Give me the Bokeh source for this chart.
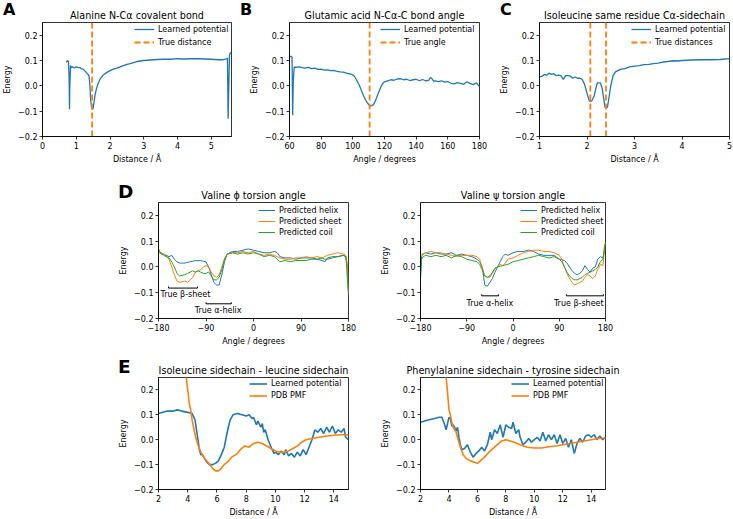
from bokeh.plotting import figure
from bokeh.layouts import row, column
from bokeh.models import Range1d, FixedTicker, Label, Legend, LegendItem, Div
from bokeh.embed import file_html
from bokeh.resources import INLINE

BLUE = "#1f77b4"
ORANGE = "#ff7f0e"
GREEN = "#2ca02c"
FONT = "DejaVu Sans"
DASH = "6 3"
Y_MIN, Y_MAX = -0.2, 0.25

# ---------------- data ----------------
# A: Alanine N-Ca covalent bond
a_x = [0.71, 0.74, 0.77, 0.79, 0.80, 0.81, 0.83, 0.86, 0.9, 0.95, 1.0, 1.05, 1.1, 1.15, 1.2, 1.25,
       1.3, 1.35, 1.38, 1.40, 1.43, 1.46, 1.48, 1.50, 1.53, 1.56, 1.6, 1.65, 1.7, 1.75, 1.8, 1.9,
       2.0, 2.1, 2.2, 2.3, 2.4, 2.5, 2.6, 2.7, 2.8, 2.9, 3.0, 3.2, 3.4, 3.6, 3.8, 4.0, 4.2, 4.4,
       4.6, 4.8, 5.0, 5.2, 5.35, 5.45, 5.48, 5.50, 5.52, 5.54, 5.56, 5.58, 5.6]
a_y = [0.092, 0.100, 0.095, 0.020, -0.092, 0.000, 0.080, 0.072, 0.075, 0.070, 0.075, 0.073, 0.072,
       0.068, 0.066, 0.060, 0.052, 0.045, 0.038, 0.010, -0.060, -0.090, -0.093, -0.088, -0.060,
       -0.035, -0.010, 0.010, 0.025, 0.035, 0.043, 0.052, 0.060, 0.066, 0.070, 0.075, 0.080, 0.085,
       0.088, 0.092, 0.096, 0.098, 0.100, 0.102, 0.104, 0.105, 0.105, 0.107, 0.106, 0.107, 0.107,
       0.106, 0.105, 0.103, 0.103, 0.106, 0.110, -0.130, 0.000, 0.120, 0.130, 0.130, 0.128]
a_true = [1.47]

# B: Glutamic acid N-Ca-C bond angle
b_x = [60, 61, 61.6, 62.0, 62.4, 63, 64, 66, 68, 70, 72, 74, 76, 78, 80, 82, 84, 86, 88, 90, 92, 94,
       96, 98, 100, 101, 102, 103, 104, 105, 106, 107, 108, 109, 110, 111, 112, 113, 114, 115, 116,
       117, 118, 119, 120, 122, 124, 126, 128, 130, 132, 134, 136, 138, 140, 142, 144, 146, 148, 149,
       150, 151, 152, 154, 156, 158, 160, 162, 164, 166, 168, 170, 172, 174, 176, 178, 180]
b_y = [0.115, 0.116, 0.114, -0.116, 0.020, 0.075, 0.073, 0.075, 0.072, 0.070, 0.073, 0.068, 0.070,
       0.065, 0.066, 0.062, 0.063, 0.060, 0.061, 0.057, 0.055, 0.054, 0.050, 0.047, 0.043, 0.038,
       0.027, 0.015, 0.003, -0.012, -0.028, -0.042, -0.055, -0.065, -0.074, -0.079, -0.078, -0.074,
       -0.063, -0.047, -0.030, -0.015, 0.000, 0.010, 0.016, 0.020, 0.024, 0.022, 0.027, 0.028, 0.024,
       0.026, 0.021, 0.024, 0.026, 0.020, 0.025, 0.020, 0.022, 0.033, 0.028, 0.018, 0.020, 0.017,
       0.020, 0.015, 0.017, 0.010, 0.008, 0.013, 0.010, 0.006, 0.016, 0.010, 0.005, 0.012, -0.003]
b_true = [110.6]

# C: Isoleucine same residue Ca-sidechain
c_x = [1.0, 1.05, 1.1, 1.15, 1.2, 1.25, 1.3, 1.35, 1.4, 1.45, 1.5, 1.55, 1.6, 1.65, 1.7, 1.75, 1.8,
       1.85, 1.9, 1.95, 2.0, 2.05, 2.1, 2.15, 2.2, 2.22, 2.28, 2.32, 2.36, 2.38, 2.43, 2.46, 2.5, 2.55,
       2.6, 2.7, 2.8, 2.9, 3.0, 3.1, 3.2, 3.3, 3.4, 3.5, 3.6, 3.7, 3.8, 3.9, 4.0, 4.2, 4.4, 4.6, 4.8, 5.0]
c_y = [0.035, 0.037, 0.045, 0.042, 0.050, 0.045, 0.048, 0.040, 0.042, 0.040, 0.025, 0.040, 0.040,
       0.038, 0.030, 0.035, 0.030, 0.030, 0.025, 0.005, -0.030, -0.060, -0.060, -0.040, 0.000, 0.012,
       0.012, -0.010, -0.060, -0.085, -0.085, -0.050, 0.000, 0.040, 0.055, 0.065, 0.068, 0.075, 0.078,
       0.080, 0.084, 0.085, 0.088, 0.090, 0.094, 0.096, 0.099, 0.098, 0.100, 0.102, 0.103, 0.103, 0.104, 0.107]
c_true = [2.07, 2.40]

# D: Valine torsion angles
ang = [-180, -175, -170, -160, -155, -150, -145, -140, -130, -125, -120, -115, -110, -105, -100, -95,
       -90, -85, -80, -75, -70, -65, -60, -55, -50, -40, -30, -20, -10, 0, 10, 20, 30, 40, 45, 50, 60,
       70, 80, 90, 100, 110, 120, 130, 135, 140, 150, 160, 170, 175, 178, 180]
phi_helix = [0.060, 0.055, 0.050, 0.040, 0.045, 0.030, 0.020, 0.015, 0.015, 0.018, 0.020, 0.022, 0.025,
             0.024, 0.025, 0.022, 0.020, 0.000, -0.030, -0.060, -0.070, -0.070, -0.030, 0.020, 0.050,
             0.060, 0.060, 0.065, 0.070, 0.065, 0.060, 0.055, 0.055, 0.060, 0.055, 0.040, 0.035, 0.035,
             0.030, 0.035, 0.035, 0.035, 0.030, 0.025, 0.020, 0.035, 0.040, 0.040, 0.045, 0.040, 0.000, -0.100]
phi_sheet = [0.055, 0.052, 0.050, 0.030, 0.000, -0.030, -0.055, -0.060, -0.055, -0.060, -0.050, -0.040,
             -0.020, -0.015, -0.010, 0.000, 0.005, 0.000, -0.020, -0.035, -0.040, -0.030, 0.000, 0.030,
             0.050, 0.055, 0.055, 0.060, 0.055, 0.060, 0.050, 0.045, 0.050, 0.045, 0.040, 0.035, 0.030,
             0.030, 0.035, 0.035, 0.040, 0.035, 0.040, 0.035, 0.040, 0.045, 0.050, 0.055, 0.050, 0.045, 0.000, -0.100]
phi_coil = [0.070, 0.050, 0.045, 0.035, 0.020, 0.000, -0.025, -0.035, -0.030, -0.025, -0.020, -0.015,
            -0.020, -0.015, -0.020, -0.025, -0.025, -0.020, -0.035, -0.050, -0.050, -0.040, -0.010, 0.030,
            0.050, 0.055, 0.050, 0.055, 0.050, 0.055, 0.050, 0.040, 0.045, 0.040, 0.030, 0.020, 0.025,
            0.020, 0.025, 0.025, 0.025, 0.030, 0.030, 0.035, 0.030, 0.030, 0.035, 0.040, 0.045, 0.040, -0.050, -0.110]

ang2 = [-180, -178, -175, -170, -160, -150, -140, -130, -120, -110, -100, -90, -80, -70, -65, -60, -57,
        -55, -50, -45, -40, -35, -30, -25, -20, -15, -10, 0, 10, 20, 30, 40, 50, 60, 70, 80, 90, 95, 100,
        105, 110, 115, 120, 125, 130, 135, 140, 145, 150, 155, 160, 165, 170, 175, 178, 180]
psi_helix = [-0.050, 0.040, 0.050, 0.055, 0.050, 0.055, 0.050, 0.050, 0.055, 0.045, 0.050, 0.045, 0.040,
             0.030, 0.020, 0.000, -0.040, -0.070, -0.075, -0.060, -0.045, -0.020, 0.000, 0.020, 0.040,
             0.050, 0.045, 0.055, 0.060, 0.060, 0.065, 0.060, 0.050, 0.045, 0.045, 0.045, 0.030, 0.028,
             0.025, 0.015, 0.000, -0.015, -0.025, -0.030, -0.025, -0.015, 0.005, -0.010, -0.020, -0.005,
             0.000, 0.030, 0.040, 0.035, 0.060, 0.070]
psi_sheet = [0.050, 0.050, 0.050, 0.055, 0.060, 0.055, 0.055, 0.050, 0.045, 0.040, 0.045, 0.045, 0.045,
             0.040, 0.030, 0.000, -0.020, -0.035, -0.040, -0.040, -0.025, -0.005, 0.000, 0.010, 0.005,
             0.015, 0.030, 0.035, 0.045, 0.055, 0.060, 0.065, 0.065, 0.060, 0.060, 0.055, 0.045, 0.030,
             0.000, -0.025, -0.045, -0.060, -0.070, -0.065, -0.060, -0.055, -0.040, -0.030, -0.035, -0.045,
             -0.035, -0.010, 0.010, 0.005, 0.070, 0.095]
psi_coil = [-0.030, 0.030, 0.040, 0.045, 0.040, 0.045, 0.040, 0.045, 0.035, 0.045, 0.040, 0.030, 0.025,
            0.020, 0.010, -0.010, -0.025, -0.035, -0.040, -0.035, -0.020, -0.005, 0.000, 0.003, 0.005,
            0.008, 0.010, 0.020, 0.025, 0.030, 0.035, 0.040, 0.045, 0.040, 0.035, 0.040, 0.030, 0.020,
            0.000, -0.020, -0.035, -0.045, -0.050, -0.050, -0.045, -0.040, -0.030, -0.025, -0.020, -0.015,
            -0.010, 0.000, 0.020, 0.030, 0.080, 0.095]

# brackets: (start, end, y, label, label_x, label_y)
phi_brackets = [(-161, -106, -0.082, "True β-sheet", -129, -0.108),
                (-90, -42, -0.143, "True α-helix", -67, -0.170)]
psi_brackets = [(-61, -28, -0.112, "True α-helix", -45, -0.143),
                (104, 176, -0.112, "True β-sheet", 128, -0.143)]

# E: sidechain-sidechain distances
e1_x = [2.0, 2.3, 2.6, 3.0, 3.3, 3.6, 4.0, 4.3, 4.5, 4.6, 4.7, 4.8, 4.9, 5.0, 5.1, 5.3, 5.5, 5.7, 5.9,
        6.1, 6.3, 6.5, 6.7, 6.9, 7.1, 7.4, 7.7, 8.0, 8.2, 8.4, 8.5, 8.7, 8.8, 9.0, 9.1, 9.2, 9.3, 9.5,
        9.7, 9.9, 10.0, 10.2, 10.4, 10.6, 10.7, 10.9, 11.1, 11.3, 11.5, 11.7, 11.9, 12.1, 12.3, 12.5,
        12.7, 12.9, 13.1, 13.3, 13.5, 13.7, 13.9, 14.1, 14.3, 14.5, 14.7, 14.8, 15.0]
e1_learn = [0.105, 0.110, 0.115, 0.115, 0.120, 0.115, 0.110, 0.105, 0.080, 0.040, 0.000, -0.040, -0.060,
            -0.060, -0.070, -0.090, -0.100, -0.100, -0.095, -0.085, -0.060, -0.030, 0.030, 0.080, 0.100,
            0.105, 0.100, 0.095, 0.100, 0.085, 0.090, 0.060, 0.075, 0.050, 0.065, 0.030, 0.040, 0.000,
            -0.030, -0.055, -0.050, -0.060, -0.045, -0.060, -0.040, -0.065, -0.055, -0.070, -0.050, -0.065,
            -0.040, -0.060, -0.030, 0.000, 0.040, 0.030, 0.045, 0.025, 0.050, 0.030, 0.055, 0.025, 0.040,
            0.030, 0.045, 0.010, 0.000]
e1_pmf_x = [3.8, 3.9, 4.0, 4.1, 4.2, 4.3, 4.5, 4.7, 4.9, 5.1, 5.3, 5.5, 5.7, 5.9, 6.1, 6.3, 6.5, 6.8,
            7.0, 7.3, 7.6, 7.9, 8.2, 8.5, 8.8, 9.1, 9.4, 9.7, 10.0, 10.3, 10.6, 10.9, 11.2, 11.5, 11.8,
            12.1, 12.5, 13.0, 13.5, 14.0, 14.5, 15.0]
e1_pmf = [0.320, 0.250, 0.200, 0.150, 0.120, 0.080, 0.020, -0.020, -0.050, -0.070, -0.085, -0.100,
          -0.115, -0.125, -0.125, -0.115, -0.100, -0.085, -0.070, -0.060, -0.040, -0.025, -0.030, -0.015,
          -0.010, -0.015, -0.025, -0.035, -0.045, -0.050, -0.050, -0.045, -0.035, -0.025, -0.010, 0.000,
          0.005, 0.010, 0.015, 0.018, 0.020, 0.020]

e2_x = [2.0, 2.3, 2.6, 3.0, 3.3, 3.5, 3.7, 3.8, 4.0, 4.1, 4.2, 4.3, 4.4, 4.5, 4.6, 4.7, 4.8, 4.9, 5.1,
        5.3, 5.5, 5.7, 5.9, 6.1, 6.3, 6.5, 6.7, 6.9, 7.0, 7.2, 7.4, 7.6, 7.8, 8.0, 8.2, 8.4, 8.5, 8.7,
        8.9, 9.0, 9.2, 9.4, 9.6, 9.8, 10.0, 10.2, 10.4, 10.6, 10.8, 11.0, 11.2, 11.4, 11.6, 11.8, 12.0,
        12.2, 12.4, 12.6, 12.8, 13.0, 13.2, 13.4, 13.6, 13.8, 14.0, 14.2, 14.4, 14.6, 14.8, 15.0]
e2_learn = [0.070, 0.075, 0.080, 0.085, 0.090, 0.090, 0.060, 0.040, 0.090, 0.085, 0.055, 0.060, 0.050,
            0.035, 0.050, 0.010, -0.020, -0.040, -0.035, -0.020, -0.050, -0.070, -0.055, -0.045, -0.030,
            -0.045, -0.020, 0.030, 0.000, 0.040, 0.025, 0.060, 0.010, 0.060, 0.050, 0.045, 0.070, 0.025,
            0.040, 0.010, -0.020, -0.010, 0.005, -0.010, 0.000, 0.010, -0.005, 0.030, -0.005, 0.020, 0.000,
            0.020, -0.015, 0.020, -0.015, 0.005, -0.030, 0.000, -0.055, -0.015, 0.005, -0.010, 0.015, 0.020,
            0.010, 0.020, 0.000, 0.015, 0.000, 0.010]
e2_pmf_x = [3.7, 3.8, 3.9, 4.0, 4.1, 4.2, 4.3, 4.5, 4.6, 4.8, 5.0, 5.2, 5.5, 5.8, 6.0, 6.2, 6.5, 6.8,
            7.1, 7.4, 7.7, 8.0, 8.3, 8.6, 9.0, 9.5, 10.0, 10.5, 11.0, 11.5, 12.0, 12.5, 13.0, 13.5, 14.0,
            14.5, 15.0]
e2_pmf = [0.320, 0.250, 0.190, 0.120, 0.100, 0.070, 0.050, 0.030, 0.010, -0.030, -0.060, -0.075, -0.085,
          -0.090, -0.095, -0.085, -0.070, -0.050, -0.035, -0.020, -0.005, 0.000, -0.005, -0.010, -0.020,
          -0.030, -0.033, -0.033, -0.028, -0.025, -0.020, -0.015, -0.010, -0.005, 0.000, 0.005, 0.007]

y_ticks = [-0.2, -0.1, 0.0, 0.1, 0.2]
y_labels = {-0.2: "−0.2", -0.1: "−0.1", 0.0: "0.0", 0.1: "0.1", 0.2: "0.2"}
ang_ticks = [-180, -90, 0, 90, 180]
ang_labels = {-180: "−180", -90: "−90", 0: "0", 90: "90", 180: "180"}

# panel letters: (letter, left px, top px, font px)
panel_letters = [("A", 3, 2, 16), ("B", 240, 2, 16), ("C", 500, 2, 16),
                 ("D", 118, 183, 18.5), ("E", 118, 358, 18.5)]


def make_fig(width, height, xr, xticks, xlabels, xlabel, title, left, right, top, bottom):
    p = figure(width=width, height=height, output_backend="svg", toolbar_location=None,
               x_range=Range1d(*xr), y_range=Range1d(Y_MIN, Y_MAX),
               min_border_left=left, min_border_right=right, min_border_top=top,
               min_border_bottom=bottom)
    p.grid.visible = False
    p.outline_line_color = "black"
    p.outline_line_width = 0.8
    p.background_fill_color = "white"
    p.border_fill_color = None
    p.title.text = title
    p.title.align = "center"
    p.title.text_font = FONT
    p.title.text_font_size = "9.6px"
    p.title.text_font_style = "normal"
    p.title.text_color = "black"
    p.title.standoff = 3
    for ax, ticks, labels, lab in ((p.xaxis[0], xticks, xlabels, xlabel),
                                   (p.yaxis[0], y_ticks, y_labels, "Energy")):
        ax.ticker = FixedTicker(ticks=ticks)
        ax.major_label_overrides = labels
        ax.axis_label = lab
        ax.axis_label_text_font = FONT
        ax.axis_label_text_font_size = "8px"
        ax.axis_label_text_font_style = "normal"
        ax.axis_label_text_color = "black"
        ax.axis_label_standoff = 3
        ax.major_label_text_font = FONT
        ax.major_label_text_font_size = "8px"
        ax.major_label_text_color = "black"
        ax.major_label_standoff = 2
        ax.major_tick_out = 3
        ax.major_tick_in = 0
        ax.minor_tick_line_color = None
        ax.axis_line_width = 0.8
        ax.major_tick_line_width = 0.8
        ax.axis_line_color = "black"
        ax.major_tick_line_color = "black"
    return p


def style_legend(p, items, loc, glyph_w=20, row_h=12):
    leg = Legend(items=items, location=loc, border_line_alpha=0,
                 background_fill_alpha=0, label_text_font=FONT, label_text_font_size="8px",
                 label_text_color="black", glyph_width=glyph_w, glyph_height=row_h - 1,
                 label_height=row_h - 1, spacing=1, padding=1, margin=0, label_standoff=4)
    p.add_layout(leg)


def true_lines(p, values):
    n = len(values)
    return p.segment(x0=values, x1=values, y0=[Y_MIN] * n, y1=[Y_MAX] * n,
                     line_color=ORANGE, line_width=1.8, line_dash=DASH)


# ---------- Row 1 (canvas height 172, frame 22..136) ----------
pa = make_fig(240, 172, (0, 5.6), [0, 1, 2, 3, 4, 5], {}, "Distance / Å",
              "Alanine N-Cα covalent bond", 41, 9, 22, 36)
la = pa.line(a_x, a_y, line_color=BLUE, line_width=1.3)
dla = true_lines(pa, a_true)
style_legend(pa, [LegendItem(label="Learned potential", renderers=[la]),
                  LegendItem(label="True distance", renderers=[dla])], (91, 87), row_h=13)

pb = make_fig(250, 172, (60, 180), [60, 80, 100, 120, 140, 160, 180], {}, "Angle / degrees",
              "Glutamic acid N-Cα-C bond angle", 49, 11, 22, 36)
lb = pb.line(b_x, b_y, line_color=BLUE, line_width=1.3)
dlb = true_lines(pb, b_true)
style_legend(pb, [LegendItem(label="Learned potential", renderers=[lb]),
                  LegendItem(label="True angle", renderers=[dlb])], (90, 87), row_h=13)

pc = make_fig(243, 172, (1, 5), [1, 2, 3, 4, 5], {}, "Distance / Å",
              "Isoleucine same residue Cα-sidechain", 49, 4, 22, 36)
lc = pc.line(c_x, c_y, line_color=BLUE, line_width=1.3)
dlc = true_lines(pc, c_true)
style_legend(pc, [LegendItem(label="Learned potential", renderers=[lc]),
                  LegendItem(label="True distances", renderers=[dlc])], (91, 87), row_h=13)


# ---------- Row 2 (canvas height 178, frame 202..318) ----------
def torsion(width, left, right, xs, helix, sheet, coil, title, brackets):
    p = make_fig(width, 178, (-180, 180), ang_ticks, ang_labels, "Angle / degrees",
                 title, left, right, 30, 32)
    r1 = p.line(xs, helix, line_color=BLUE, line_width=1.0)
    r2 = p.line(xs, sheet, line_color=ORANGE, line_width=1.0)
    r3 = p.line(xs, coil, line_color=GREEN, line_width=1.0)
    for (s, e, yb, txt, tx, ty) in brackets:
        p.segment(x0=[s, s, e], y0=[yb, yb, yb], x1=[e, s, e], y1=[yb, yb + 0.006, yb + 0.006],
                  line_color="black", line_width=1)
        p.add_layout(Label(x=tx, y=ty, text=txt, text_align="center", text_baseline="middle",
                           text_font=FONT, text_font_size="8px", text_color="black"))
    style_legend(p, [LegendItem(label="Predicted helix", renderers=[r1]),
                     LegendItem(label="Predicted sheet", renderers=[r2]),
                     LegendItem(label="Predicted coil", renderers=[r3])], (99, 80),
                 glyph_w=17, row_h=11)
    return p


pd1 = torsion(378, 158, 30, ang, phi_helix, phi_sheet, phi_coil, "Valine ϕ torsion angle",
              phi_brackets)
pd2 = torsion(355, 38, 128, ang2, psi_helix, psi_sheet, psi_coil, "Valine ψ torsion angle",
              psi_brackets)


# ---------- Row 3 (canvas height 169, frame 377..493) ----------
def pmf(width, left, right, xs, learn, px, pv, title):
    p = make_fig(width, 169, (2, 15), [2, 4, 6, 8, 10, 12, 14], {}, "Distance / Å",
                 title, left, right, 27, 26)
    r1 = p.line(xs, learn, line_color=BLUE, line_width=1.6)
    r2 = p.line(px, pv, line_color=ORANGE, line_width=1.6)
    style_legend(p, [LegendItem(label="Learned potential", renderers=[r1]),
                     LegendItem(label="PDB PMF", renderers=[r2])], (90, 87),
                 glyph_w=18, row_h=12)
    return p


pe1 = pmf(378, 158, 30, e1_x, e1_learn, e1_pmf_x, e1_pmf,
          "Isoleucine sidechain - leucine sidechain")
pe2 = pmf(355, 38, 128, e2_x, e2_learn, e2_pmf_x, e2_pmf,
          "Phenylalanine sidechain - tyrosine sidechain")

letter_divs = []
for (txt, lx, ty, fs) in panel_letters:
    letter_divs.append(Div(
        text=(f'<span style="display:block;margin:0;padding:0;font-family:\'DejaVu Sans\';'
              f'font-weight:bold;font-size:{fs}px;line-height:{fs}px;color:black;">{txt}</span>'),
        styles={"position": "absolute", "left": f"{lx}px", "top": f"{ty}px",
                "margin": "0", "padding": "0", "z-index": "10"}))

layout = column(row(pa, pb, pc), row(pd1, pd2), row(pe1, pe2), *letter_divs)

open("out.html", "w").write(file_html(layout, INLINE))
